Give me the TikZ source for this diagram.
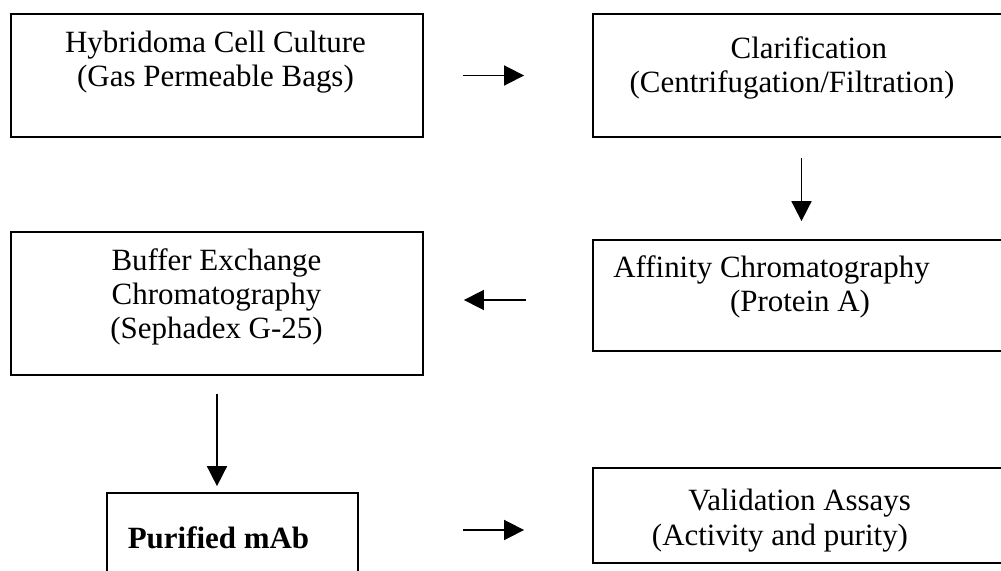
\documentclass[tikz,border=0pt]{standalone}
\usepackage{fontspec}
\setmainfont{Liberation Serif}
\usepackage{tikz}
\usetikzlibrary{arrows.meta}

\tikzset{
  box/.style={draw, line width=1.2pt, inner sep=0pt},
  txt/.style={font=\fontsize{22}{24.2}\selectfont, align=center, inner sep=0pt, anchor=base},
  flow/.style={line width=1.2pt, -{Triangle[length=0.5cm,width=0.5cm]}}
}

\begin{document}
\begin{tikzpicture}[x=0.025cm, y=-0.025cm]
\useasboundingbox (0,0) rectangle (1001,571);
\clip (0,0) rectangle (1001,571);

% the boxes
\node[box, minimum width=10.3cm, minimum height=3.075cm] (hyb) at (217,75.5) {};
\node[box, minimum width=10.425cm, minimum height=3.075cm] (clar) at (801.5,75.5) {};
\node[box, minimum width=10.3cm, minimum height=3.575cm] (buf) at (217,303.5) {};
\node[box, minimum width=10.425cm, minimum height=2.775cm] (aff) at (801.5,295.5) {};
\node[box, minimum width=6.275cm, minimum height=2.175cm] (pur) at (232.5,536.5) {};
\node[box, minimum width=10.425cm, minimum height=2.375cm] (val) at (801.5,515.5) {};

% the texts (placed at the baseline of their last line)
\node[txt] (hyb-t) at (215.5,87) {Hybridoma Cell Culture\\(Gas Permeable Bags)};
\node[txt] (clar-t) at (792,93) {\hspace*{24pt}Clarification\\(Centrifugation/Filtration)};
\node[txt] (buf-t) at (216.5,339) {Buffer Exchange\\Chromatography\\(Sephadex G-25)};
\node[txt, align=left, anchor=base west] (aff-t) at (613,312) {Affinity Chromatography\\\hspace*{83pt}(Protein A)};
\node[txt, font=\fontsize{22}{24.2}\selectfont\bfseries] (pur-t) at (218.5,548) {Purified mAb};
\node[txt] (val-t) at (780,545) {\hspace*{28pt}Validation Assays\\(Activity and purity)};

% the arrows
\draw[flow, shorten <=0.975cm, shorten >=1.7cm] (hyb.east) -- (clar.west);
\draw[flow, shorten <=0.5cm, shorten >=0.45cm] (clar.south) -- (aff.north);
\draw[flow, shorten <=1.65cm, shorten >=1.0cm] ([yshift=-0.1125cm]aff.west) -- ([yshift=-0.1125cm]aff.west -| buf.east);
\draw[flow, shorten <=0.45cm, shorten >=0.15cm] (buf.south) -- (buf.south |- pur.north);
\draw[flow, shorten <=2.6cm, shorten >=1.7cm] ([yshift=0.1625cm]pur.east) -- ([yshift=0.1625cm]pur.east -| val.west);
\end{tikzpicture}
\end{document}
